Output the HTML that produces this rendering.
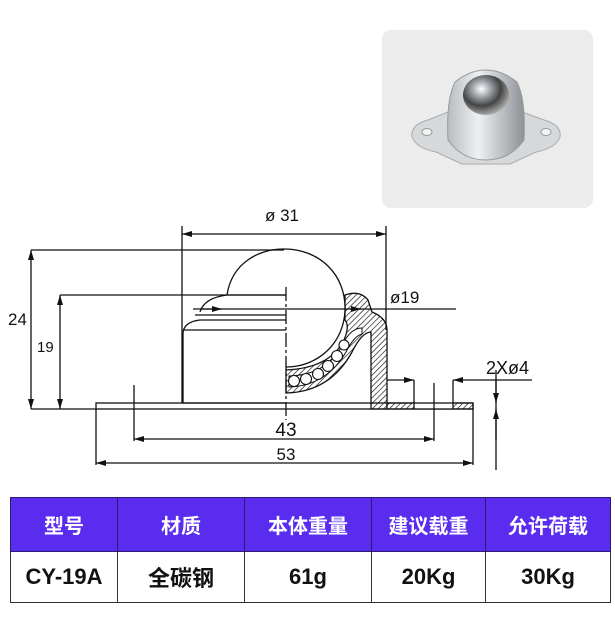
<!DOCTYPE html>
<html><head><meta charset="utf-8"><style>
html,body{margin:0;padding:0;background:#fff;}
body{width:615px;height:627px;position:relative;overflow:hidden;font-family:"Liberation Sans","Noto Sans CJK SC",sans-serif;}
svg{position:absolute;left:0;top:0;}
table{position:absolute;left:10px;top:497px;width:600px;border-collapse:collapse;table-layout:fixed;}
td{border:1.5px solid #333;text-align:center;font-weight:bold;padding:0;}
tr.h td{background:#5a2cf0;color:#fff;height:53px;font-size:20px;border-color:#2a1a70;}
tr.b td{height:50px;font-size:22px;color:#111;}
</style></head><body>
<svg width="615" height="627" viewBox="0 0 615 627" font-family="Liberation Sans, sans-serif">
<defs>
<marker id="a" markerWidth="10" markerHeight="6" refX="10" refY="3" orient="auto-start-reverse" markerUnits="userSpaceOnUse"><path d="M0,0 L10,3 L0,6 Z" fill="#111"/></marker>
<pattern id="hatch" width="4" height="4" patternUnits="userSpaceOnUse" patternTransform="rotate(45)"><rect width="4" height="4" fill="#fff"/><line x1="0" y1="0" x2="0" y2="4" stroke="#111" stroke-width="1.3"/></pattern>
<linearGradient id="met" x1="0" x2="1"><stop offset="0" stop-color="#b8bcc0"/><stop offset=".4" stop-color="#eef0f2"/><stop offset="1" stop-color="#8d9296"/></linearGradient>
<radialGradient id="ball" cx=".4" cy=".35" r=".7"><stop offset="0" stop-color="#fff"/><stop offset=".3" stop-color="#9aa0a6"/><stop offset=".6" stop-color="#444"/><stop offset="1" stop-color="#bbb"/></radialGradient>
</defs>
<!-- photo -->
<rect x="382" y="30" width="211" height="178" rx="9" fill="#ececec"/>
<path d="M412 137 Q410 125 428 120 L448 112 L522 112 L544 120 Q562 125 560 137 Q556 148 536 152 L510 164 L462 164 L436 152 Q416 148 412 137 Z" fill="#d6d9dc" stroke="#aaa"/>
<path d="M448 140 Q446 100 455 82 Q470 70 486 70 Q502 70 517 82 Q526 100 524 140 Q510 160 486 160 Q462 160 448 140 Z" fill="url(#met)" stroke="#999"/>
<ellipse cx="486" cy="95" rx="23" ry="20" fill="url(#ball)"/>
<ellipse cx="427" cy="132" rx="5" ry="3.5" fill="#f4f4f4" stroke="#999"/>
<ellipse cx="546" cy="132" rx="5" ry="3.5" fill="#f4f4f4" stroke="#999"/>
<g stroke="#111" fill="none" stroke-width="1.3">
<!-- housing right shell -->
<path d="M286 393 Q330 392 352 352 Q362 332 371 332 L371 409 L387 409 L387 330 Q387 318 372 312 L368 300 Q360 290 345 295 L345 320 Q350 326 344 340 Q330 368 286 370 Z" fill="url(#hatch)"/>
<path d="M289 387 Q326 386 346 352 Q354 336 362 334 L362 328 Q350 328 342 346 Q326 375 289 376 Z" fill="#fff" stroke-width="1"/>
<path d="M387 403 L473 403 L473 409 L387 409 Z" fill="url(#hatch)"/>
<rect x="414" y="399" width="39" height="10" fill="#fff" stroke="none"/>
<line x1="414" y1="380" x2="414" y2="409"/><line x1="453" y1="380" x2="453" y2="409"/>
<!-- race balls -->
<g stroke-width="1.1" fill="#fff">
<circle cx="294" cy="381" r="5.5"/><circle cx="306" cy="379" r="5.5"/><circle cx="318" cy="374" r="5.5"/><circle cx="328" cy="366" r="5.5"/><circle cx="337" cy="356" r="5.5"/><circle cx="344" cy="345" r="5"/>
</g>
<!-- ball -->
<path d="M227 295 C232 262 260 249 284 249 C320 249 346 275 345 310 C344 343 318 367 286 367" fill="#fff"/>
<!-- body -->
<path d="M183 403 L183 334 Q183 322 200 320 L286 320"/>
<line x1="183" y1="330" x2="286" y2="330"/>
<line x1="195" y1="315" x2="286" y2="315"/>
<path d="M200 312 Q204 298 227 295 L286 295"/>
<line x1="183" y1="403" x2="286" y2="403"/>
<!-- flange -->
<rect x="96" y="403" width="377" height="6"/>
<line x1="31" y1="409" x2="96" y2="409"/>
<!-- centerline -->
<line x1="286" y1="287" x2="286" y2="420" stroke-dasharray="14 3 3 3"/>
<!-- dims -->
<line x1="182" y1="226" x2="182" y2="403"/><line x1="386" y1="226" x2="386" y2="330"/>
<line x1="182" y1="234" x2="386" y2="234" marker-start="url(#a)" marker-end="url(#a)"/>
<line x1="31" y1="250" x2="284" y2="250"/>
<line x1="31" y1="250" x2="31" y2="409" marker-start="url(#a)" marker-end="url(#a)"/>
<line x1="60" y1="295" x2="286" y2="295"/>
<line x1="60" y1="295" x2="60" y2="409" marker-start="url(#a)" marker-end="url(#a)"/>
<line x1="193" y1="309" x2="456" y2="309"/>
<line x1="200" y1="309" x2="222" y2="309" marker-end="url(#a)"/>
<line x1="350" y1="309" x2="361" y2="309" marker-end="url(#a)"/>
<line x1="387" y1="380" x2="414" y2="380" marker-end="url(#a)"/>
<line x1="453" y1="380" x2="532" y2="380" marker-start="url(#a)"/>
<line x1="496" y1="380" x2="496" y2="470"/>
<line x1="496" y1="370" x2="496" y2="403" marker-end="url(#a)"/>
<line x1="496" y1="440" x2="496" y2="409" marker-end="url(#a)"/>
<line x1="134" y1="385" x2="134" y2="441"/><line x1="434" y1="383" x2="434" y2="441"/>
<line x1="134" y1="439" x2="434" y2="439" marker-start="url(#a)" marker-end="url(#a)"/>
<line x1="96" y1="409" x2="96" y2="465"/><line x1="473" y1="409" x2="473" y2="465"/>
<line x1="96" y1="463" x2="473" y2="463" marker-start="url(#a)" marker-end="url(#a)"/>
</g>
<g fill="#111" font-size="17">
<text x="282" y="221" text-anchor="middle">ø 31</text>
<text x="8" y="325">24</text>
<text x="37" y="352" font-size="15">19</text>
<text x="390" y="303">ø19</text>
<text x="486" y="374" font-size="18">2Xø4</text>
<text x="286" y="436" text-anchor="middle" font-size="19">43</text>
<text x="286" y="460" text-anchor="middle">53</text>
</g>
</svg>
<table>
<colgroup><col style="width:107px"><col style="width:127px"><col style="width:127px"><col style="width:114px"><col style="width:125px"></colgroup>
<tr class="h"><td>型号</td><td>材质</td><td>本体重量</td><td>建议载重</td><td>允许荷载</td></tr>
<tr class="b"><td>CY-19A</td><td>全碳钢</td><td>61g</td><td>20Kg</td><td>30Kg</td></tr>
</table>
</body></html>
